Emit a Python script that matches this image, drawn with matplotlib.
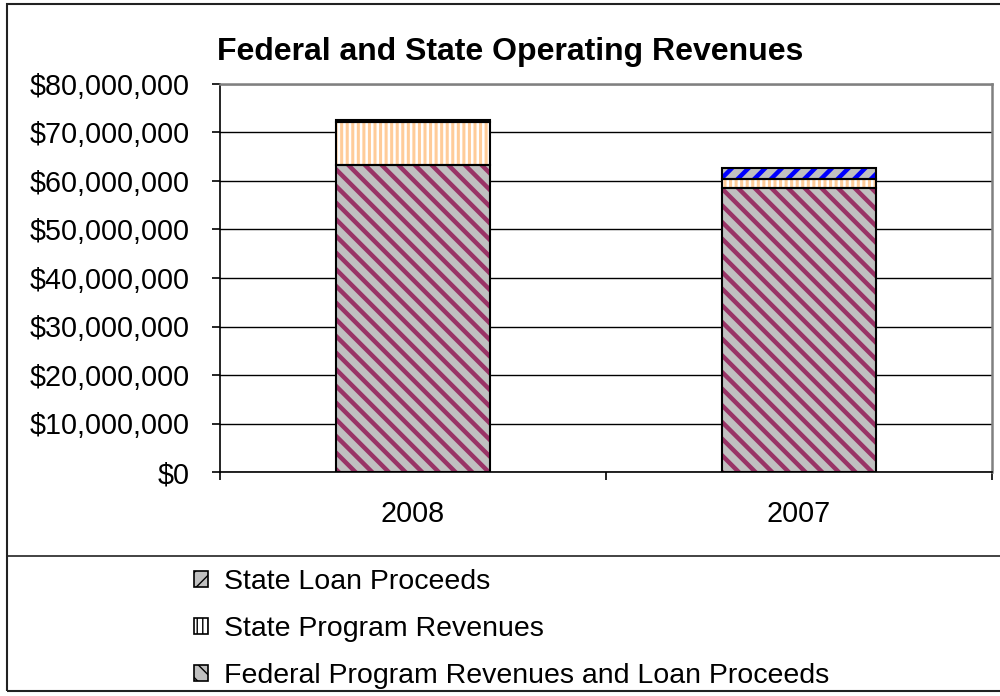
import matplotlib
matplotlib.use("Agg")
import matplotlib.pyplot as plt
from matplotlib.patches import Rectangle, Patch
from matplotlib.lines import Line2D
from matplotlib.ticker import FuncFormatter, MultipleLocator

# revenue data (dollars), stacked bottom to top
years = ["2008", "2007"]
federal = [63.2e6, 58.5e6]
state_program = [9.0e6, 1.9e6]
state_loan = [0.3e6, 2.2e6]

plt.rcParams['font.family'] = ['Liberation Sans', 'DejaVu Sans']

fig = plt.figure(figsize=(10, 6.96), dpi=100)
ax = fig.add_axes([0.22, 1 - 472 / 696, 0.772, (472 - 84) / 696])

x = list(range(len(years)))
width = 0.4

def stacked(vals, bottom, face, stripe, hatch, hlw):
    with plt.rc_context({'hatch.linewidth': hlw}):
        bars = ax.bar(x, vals, width, bottom=bottom, color=face,
                      edgecolor=stripe, hatch=hatch, linewidth=0, zorder=2)
    for b in bars:
        if hasattr(b, "set_hatch_linewidth"):
            b.set_hatch_linewidth(hlw)
    # black outline drawn separately so the hatch keeps its own colour
    ax.bar(x, vals, width, bottom=bottom, fill=False,
           edgecolor="black", linewidth=1.5, zorder=3)

bottom2 = [f + s for f, s in zip(federal, state_program)]
stacked(federal, None, "#C0C0C0", "#993366", "\\\\", 3.2)
stacked(state_program, federal, "white", "#FFCC99", "|||", 2.2)
stacked(state_loan, bottom2, "#C0C0C0", "#0000FF", "//", 3.2)

ax.set_xlim(-0.5, 1.5)
ax.set_ylim(0, 80e6)
ax.yaxis.set_major_locator(MultipleLocator(10e6))
ax.yaxis.set_major_formatter(FuncFormatter(lambda v, p: "${:,.0f}".format(v)))
ax.grid(axis="y", color="black", linewidth=1.0, zorder=1)
ax.set_axisbelow(True)

ax.set_xticks(x)
ax.set_xticklabels(years)
ax.set_xticks([-0.5, 0.5, 1.5], minor=True)
ax.tick_params(axis="x", which="major", length=0, pad=20, labelsize=20.7)
ax.tick_params(axis="x", which="minor", length=6, width=1.2, direction="out")
ax.tick_params(axis="y", length=6, width=1.2, pad=16, labelsize=20.7)

for side in ("top", "right"):
    ax.spines[side].set_color("#808080")
    ax.spines[side].set_linewidth(1.8)
for side in ("left", "bottom"):
    ax.spines[side].set_color("black")
    ax.spines[side].set_linewidth(1.2)

fig.text(0.51, 1 - 60 / 696, "Federal and State Operating Revenues",
         ha="center", va="baseline", fontsize=23, fontweight="bold")

# outer chart frame and legend separator
fig.add_artist(Rectangle((0.007, 1 - 691 / 696), 1.1, (691 - 4) / 696,
                         transform=fig.transFigure, fill=False,
                         edgecolor="#222222", linewidth=1.5))
fig.add_artist(Line2D([0.007, 1.0], [1 - 556 / 696] * 2,
                      transform=fig.transFigure, color="#222222", linewidth=1.2))

handles = [
    Patch(facecolor="#C0C0C0", edgecolor="#0000FF", hatch="//", linewidth=0),
    Patch(facecolor="white", edgecolor="#FFCC99", hatch="|||", linewidth=0),
    Patch(facecolor="#C0C0C0", edgecolor="#993366", hatch="\\\\", linewidth=0),
]
labels = ["State Loan Proceeds", "State Program Revenues",
          "Federal Program Revenues and Loan Proceeds"]
leg = fig.legend(handles, labels, loc="upper left",
                 bbox_to_anchor=(0.194, 1 - 569 / 696), frameon=False,
                 fontsize=20.5, borderpad=0, borderaxespad=0,
                 handlelength=0.5, handleheight=0.5, handletextpad=0.55,
                 labelspacing=0.74)
for h in leg.legend_handles:
    h.set_edgecolor("black")
    h.set_linewidth(1.2)

fig.savefig("out.png", dpi=100)
